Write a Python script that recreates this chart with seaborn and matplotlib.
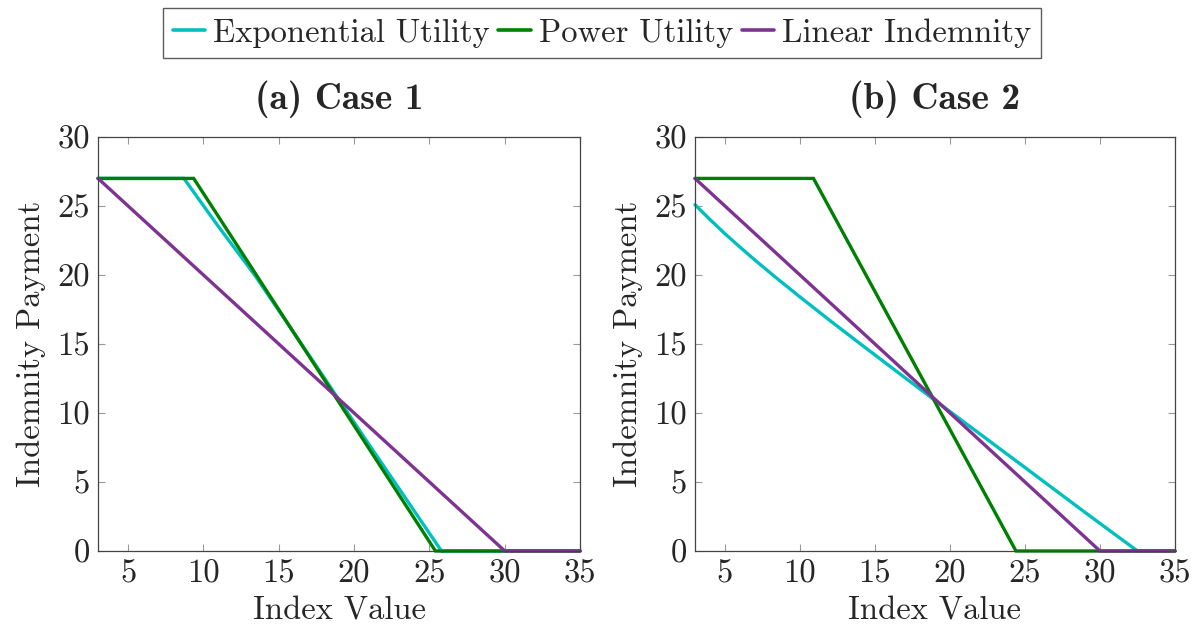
import matplotlib
matplotlib.use("Agg")
import matplotlib.pyplot as plt
import seaborn as sns
import pandas as pd

# ---- data ----
series_names = ["Exponential Utility", "Power Utility", "Linear Indemnity"]
panel_titles = ["(a) Case 1", "(b) Case 2"]

case1_exp_x = [3, 8.7, 11, 13.4, 17, 21, 25.8, 35]
case1_exp_y = [27, 27, 23.5, 20, 14.2, 7.7, 0, 0]
case1_pow_x = [3, 9.35, 25.4, 35]
case1_pow_y = [27, 27, 0, 0]
case1_lin_x = [3, 30, 35]
case1_lin_y = [27, 0, 0]

case2_exp_x = [3, 4, 5, 6, 7, 8.3, 10, 12, 14, 16, 18.3, 21, 25, 29, 32.5, 35]
case2_exp_y = [25.1, 24.02, 22.99, 22.02, 21.08, 19.9, 18.41, 16.7, 15.03, 13.38,
               11.49, 9.29, 6.05, 2.8, 0, 0]
case2_pow_x = [3, 10.9, 24.4, 35]
case2_pow_y = [27, 27, 0, 0]
case2_lin_x = [3, 30, 35]
case2_lin_y = [27, 0, 0]

x_ticks = [5, 10, 15, 20, 25, 30, 35]
y_ticks = [0, 5, 10, 15, 20, 25, 30]

colors = {"Exponential Utility": "#00BFBF",
          "Power Utility": "#008000",
          "Linear Indemnity": "#7F3391"}

sns.set_style("ticks")
plt.rcParams["font.family"] = ["cmr10", "DejaVu Serif"]
plt.rcParams["mathtext.fontset"] = "cm"
plt.rcParams["axes.unicode_minus"] = False
plt.rcParams["axes.formatter.use_mathtext"] = False


def make_df(ex, ey, px, py, lx, ly):
    rows = []
    for name, xs, ys in zip(series_names, [ex, px, lx], [ey, py, ly]):
        for i, (a, b) in enumerate(zip(xs, ys)):
            rows.append({"series": name, "x": a, "y": b, "order": i})
    return pd.DataFrame(rows)


dfs = [make_df(case1_exp_x, case1_exp_y, case1_pow_x, case1_pow_y, case1_lin_x, case1_lin_y),
       make_df(case2_exp_x, case2_exp_y, case2_pow_x, case2_pow_y, case2_lin_x, case2_lin_y)]

fig = plt.figure(figsize=(11.97, 6.30), dpi=100)
ax_pos = [[0.0819, 0.1254, 0.4027, 0.6571],
          [0.5806, 0.1254, 0.4010, 0.6571]]

FS = 23.5
for k in range(2):
    ax = fig.add_axes(ax_pos[k])
    df = dfs[k]
    sns.lineplot(data=df, x="x", y="y", hue="series", hue_order=series_names,
                 palette=colors, sort=False, estimator=None, units="series",
                 linewidth=2.4, ax=ax, legend=False)
    for ln in ax.get_lines():
        ln.set_clip_on(False)
        ln.set_solid_joinstyle("miter")
    ax.set_xlim(3, 35)
    ax.set_ylim(0, 30)
    ax.set_xticks(x_ticks)
    ax.set_yticks(y_ticks)
    ax.tick_params(direction="in", length=5, width=0.8, color="#999999",
                   top=True, right=True, labelsize=FS, pad=6)
    for s in ax.spines.values():
        s.set_color("#444444")
        s.set_linewidth(0.9)
    ax.set_xlabel("Index Value", fontsize=FS, labelpad=6)
    ax.set_ylabel("Indemnity Payment", fontsize=FS, labelpad=8)
    ax.set_title(panel_titles[k], fontsize=27, fontfamily="cmb10", pad=20)

handles = [plt.Line2D([], [], color=colors[n], linewidth=2.6) for n in series_names]
leg = fig.legend(handles, series_names, loc="upper center", bbox_to_anchor=(0.503, 0.997),
                 ncol=3, fontsize=FS, frameon=True, fancybox=False, edgecolor="#333333",
                 handlelength=1.0, handletextpad=0.25, columnspacing=0.25,
                 borderpad=0.3, borderaxespad=0.2)
leg.get_frame().set_linewidth(1.0)

fig.savefig("out.png", dpi=100, facecolor="white")
